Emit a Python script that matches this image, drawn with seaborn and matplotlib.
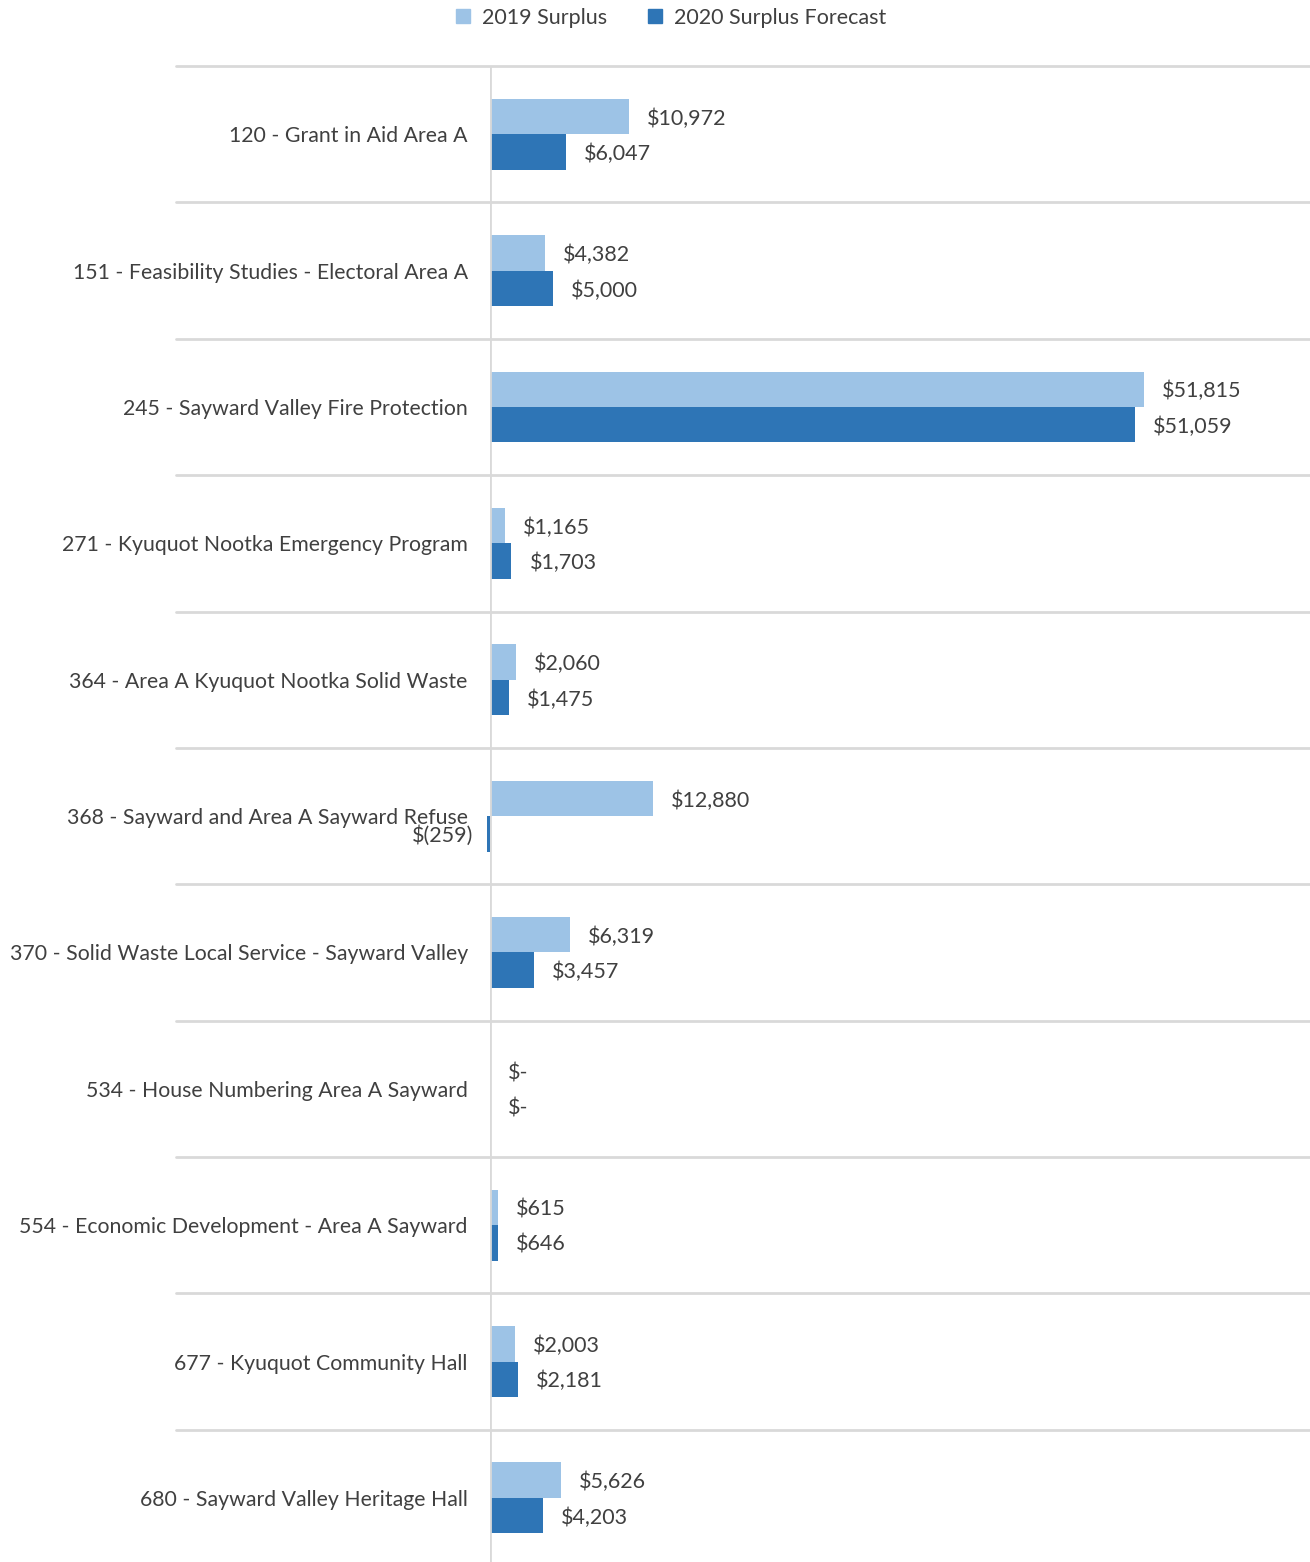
import pandas as pd
import matplotlib.pyplot as plt
import seaborn as sns
from matplotlib.lines import Line2D

categories = [
    "120 - Grant in Aid Area A",
    "151 - Feasibility Studies - Electoral Area A",
    "245 - Sayward Valley Fire Protection",
    "271 - Kyuquot Nootka Emergency Program",
    "364 - Area A Kyuquot Nootka Solid Waste",
    "368 - Sayward and Area A Sayward Refuse",
    "370 - Solid Waste Local Service - Sayward Valley",
    "534 - House Numbering Area A Sayward",
    "554 - Economic Development - Area A Sayward",
    "677 - Kyuquot Community Hall",
    "680 - Sayward Valley Heritage Hall",
]
series = ["2019 Surplus", "2020 Surplus Forecast"]
surplus_2019 = [10972, 4382, 51815, 1165, 2060, 12880, 6319, 0, 615, 2003, 5626]
surplus_2020 = [6047, 5000, 51059, 1703, 1475, -259, 3457, 0, 646, 2181, 4203]
colors = ["#9DC3E6", "#2E75B6"]
text_col = "#404040"
grid_col = "#D9D9D9"
fs = 15.5


def money(v):
    if v == 0:
        return "$-"
    if v < 0:
        return "$({:,})".format(-v)
    return "${:,}".format(v)


df = pd.DataFrame({
    "category": categories * 2,
    "series": [series[0]] * len(categories) + [series[1]] * len(categories),
    "value": surplus_2019 + surplus_2020,
})

sns.set_theme(style="white")
plt.rcParams["font.family"] = ["Lato", "DejaVu Sans"]

fig = plt.figure(figsize=(13.1, 15.62), dpi=100)
ax = fig.add_axes([490 / 1310, -0.0026, 820 / 1310, 0.9603])

sns.barplot(data=df, y="category", x="value", hue="series", order=categories,
            hue_order=series, palette=colors, orient="h", width=0.52,
            saturation=1, legend=False, ax=ax)

for p in ax.patches:
    p.set_clip_on(False)
    p.set_linewidth(0)

ax.set_xlim(0, 64960)
ax.set_ylim(10.5, -0.5)

# value labels
for i, vals in enumerate([surplus_2019, surplus_2020]):
    offset = -0.13 if i == 0 else 0.13
    for j, v in enumerate(vals):
        if v < 0:
            ax.annotate(money(v), (v, j + offset), xytext=(-10, -1.5),
                        textcoords="offset points", ha="right", va="center",
                        fontsize=fs, color=text_col, annotation_clip=False)
        else:
            ax.annotate(money(v), (v, j + offset), xytext=(13, -1.5),
                        textcoords="offset points", ha="left", va="center",
                        fontsize=fs, color=text_col, annotation_clip=False)

# row separators
for k in range(len(categories)):
    ax.axhline(k - 0.5, xmin=-0.383, xmax=1, color=grid_col, lw=2, clip_on=False)
ax.axvline(0, color=grid_col, lw=2)

for s in ax.spines.values():
    s.set_visible(False)
ax.set_xticks([])
ax.set_xlabel("")
ax.set_ylabel("")
ax.tick_params(axis="y", length=0, pad=16, labelsize=15.3, labelcolor=text_col)

handles = [Line2D([], [], marker="s", ls="", markersize=10, color=c) for c in colors]
fig.legend(handles, series, loc="center", bbox_to_anchor=(669 / 1310, 1 - 18 / 1562),
           ncol=2, frameon=False, fontsize=fs, labelcolor=text_col,
           handlelength=1, handletextpad=0.4, columnspacing=1.7)

fig.savefig("out.png", dpi=100)
